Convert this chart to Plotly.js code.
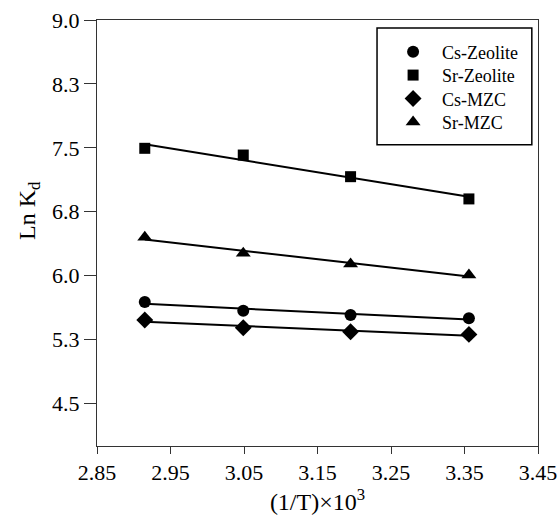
<!DOCTYPE html>
<html>
<head>
<meta charset="utf-8">
<script src="https://cdn.plot.ly/plotly-3.0.1.min.js"></script>
<style>
  html, body { margin: 0; padding: 0; background: #fff; }
  #chart { width: 559px; height: 520px; }
</style>
</head>
<body>
<div id="chart"></div>
<script>
// Inverse temperature, (1/T)×10^3
const invT = [2.915, 3.049, 3.195, 3.356];

// Ln Kd for each sorbent / ion pair
const csZeolite = [5.690, 5.588, 5.538, 5.499];
const srZeolite = [7.494, 7.415, 7.161, 6.900];
const csMZC     = [5.479, 5.388, 5.341, 5.310];
const srMZC     = [6.450, 6.262, 6.136, 6.007];

const seriesNames = ['Cs-Zeolite', 'Sr-Zeolite', 'Cs-MZC', 'Sr-MZC'];

// Axis ticks
const xTickVals = [2.85, 2.95, 3.05, 3.15, 3.25, 3.35, 3.45];
const xTickText = ['2.85', '2.95', '3.05', '3.15', '3.25', '3.35', '3.45'];
const yTickVals = [4.5, 5.25, 6.0, 6.75, 7.5, 8.25, 9.0];
const yTickText = ['4.5', '5.3', '6.0', '6.8', '7.5', '8.3', '9.0'];

// Least-squares straight line through a series, evaluated at the end points
function linearFit(xs, ys) {
  const n = xs.length;
  const mx = xs.reduce((a, b) => a + b, 0) / n;
  const my = ys.reduce((a, b) => a + b, 0) / n;
  let sxy = 0, sxx = 0;
  for (let i = 0; i < n; i++) {
    sxy += (xs[i] - mx) * (ys[i] - my);
    sxx += (xs[i] - mx) * (xs[i] - mx);
  }
  const slope = sxy / sxx;
  const icpt = my - slope * mx;
  const xe = [Math.min(...xs), Math.max(...xs)];
  return { x: xe, y: xe.map(v => icpt + slope * v) };
}

const seriesData = [csZeolite, srZeolite, csMZC, srMZC];
const symbols = ['circle', 'square', 'diamond', 'triangle-up'];
const sizes = [12, 11, 13, 13];
// one single-entry legend per series so the rows sit at a tight, even pitch
const legendIds = ['legend', 'legend2', 'legend3', 'legend4'];
const legendRowY = [0.925, 0.870, 0.815, 0.760];

const traces = [];
seriesData.forEach((ys, i) => {
  const fit = linearFit(invT, ys);
  traces.push({
    x: fit.x, y: fit.y, mode: 'lines', type: 'scatter',
    line: { color: '#000', width: 2 },
    showlegend: false, hoverinfo: 'skip'
  });
});
seriesData.forEach((ys, i) => {
  traces.push({
    x: invT, y: ys, mode: 'markers', type: 'scatter',
    name: seriesNames[i], legend: legendIds[i],
    marker: { symbol: symbols[i], size: sizes[i], color: '#000' }
  });
});

const serif = '"Liberation Serif", "Times New Roman", serif';

const layout = {
  width: 559, height: 520,
  margin: { l: 97, r: 21, t: 20, b: 74 },
  paper_bgcolor: '#fff', plot_bgcolor: '#fff',
  font: { family: serif, color: '#000' },
  showlegend: true,
  xaxis: {
    range: [2.85, 3.45],
    tickmode: 'array', tickvals: xTickVals, ticktext: xTickText,
    ticks: 'outside', ticklen: 7, tickwidth: 1, tickcolor: '#333',
    showline: true, linecolor: '#333', linewidth: 1, mirror: true,
    showgrid: false, zeroline: false,
    tickfont: { family: serif, size: 22, color: '#000' },
    title: { text: '(1/T)×10<sup>3</sup>', font: { family: serif, size: 24, color: '#000' }, standoff: 4 }
  },
  yaxis: {
    range: [4.0, 9.0],
    tickmode: 'array', tickvals: yTickVals, ticktext: yTickText,
    ticks: 'outside', ticklen: 12, tickwidth: 1, tickcolor: '#333',
    showline: true, linecolor: '#333', linewidth: 1, mirror: true,
    showgrid: false, zeroline: false,
    tickfont: { family: serif, size: 22, color: '#000' }
  },
  annotations: [{
    text: 'Ln K<sub>d</sub>', textangle: -90, showarrow: false,
    xref: 'paper', yref: 'paper', x: -0.154, y: 0.552,
    xanchor: 'center', yanchor: 'middle',
    font: { family: serif, size: 24, color: '#000' }
  }],
  shapes: [{
    type: 'rect', xref: 'paper', yref: 'paper',
    x0: 0.635, x1: 0.986, y0: 0.707, y1: 0.981,
    line: { color: '#000', width: 1.5 }, fillcolor: 'rgba(0,0,0,0)'
  }]
};

legendIds.forEach((id, i) => {
  layout[id] = {
    x: 0.651, y: legendRowY[i], xanchor: 'left', yanchor: 'middle',
    bgcolor: 'rgba(0,0,0,0)', borderwidth: 0,
    font: { family: serif, size: 18, color: '#000' },
    itemwidth: 48
  };
});

Plotly.newPlot('chart', traces, layout, { displayModeBar: false, staticPlot: true });
</script>
</body>
</html>
